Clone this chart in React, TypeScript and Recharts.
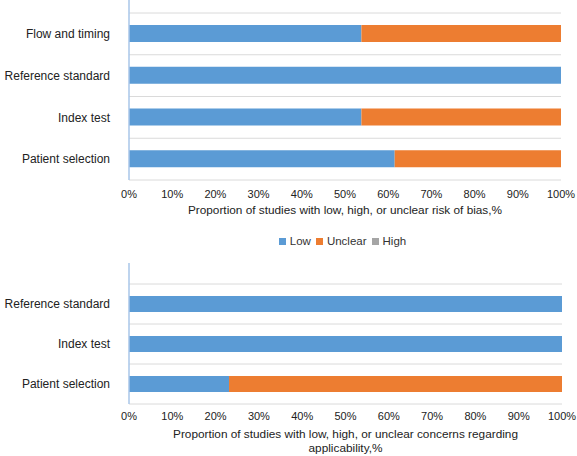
import React from 'react';
import { BarChart, Bar, XAxis, YAxis, CartesianGrid, Legend } from 'recharts';

// risk of bias (13 studies)
const biasDomains = ['Flow and timing', 'Reference standard', 'Index test', 'Patient selection'];
const biasLow = [53.8, 100, 53.8, 61.5];
const biasUnclear = [46.2, 0, 46.2, 38.5];
const biasHigh = [0, 0, 0, 0];

// applicability concerns
const applDomains = ['Reference standard', 'Index test', 'Patient selection'];
const applLow = [100, 100, 23.1];
const applUnclear = [0, 0, 76.9];
const applHigh = [0, 0, 0];

const pctTicks = [0, 10, 20, 30, 40, 50, 60, 70, 80, 90, 100];
const legendOrder = ['Low', 'Unclear', 'High'];

const FONT = '"Liberation Sans", Arial, Helvetica, sans-serif';
const BLUE = '#5b9bd5';
const ORANGE = '#ed7d31';
const GRAY = '#a5a5a5';

const biasData = biasDomains.map((name, i) => ({
  name,
  low: biasLow[i],
  unclear: biasUnclear[i],
  high: biasHigh[i],
}));

const applData = applDomains.map((name, i) => ({
  name,
  low: applLow[i],
  unclear: applUnclear[i],
  high: applHigh[i],
}));

// gridlines sit on the category boundaries, not on the tick centres
const bandLines = (count: number, padTop: number) => ({ offset }: any) => {
  const top = offset.top + padTop;
  const step = (offset.height - padTop) / count;
  return Array.from({ length: count + 1 }, (_, i) => top + i * step);
};

const AxisTitle = ({ viewBox, lines }: any) => {
  const cx = viewBox.x + viewBox.width / 2;
  return (
    <text x={cx} y={viewBox.y + 34} textAnchor="middle" fontSize={11.8} fill="#222" fontFamily={FONT}>
      {lines.map((l: string, i: number) => (
        <tspan key={i} x={cx} dy={i === 0 ? 0 : 14}>{l}</tspan>
      ))}
    </text>
  );
};

// compact legend, Excel style
const LegendBox = ({ payload }: any) => {
  const items = [...(payload || [])].sort(
    (a: any, b: any) => legendOrder.indexOf(a.value) - legendOrder.indexOf(b.value)
  );
  return (
    <div style={{ display: 'flex', justifyContent: 'center', alignItems: 'center', height: 30, fontSize: 11.5, color: '#333' }}>
      {items.map((it: any) => (
        <span key={it.value} style={{ display: 'inline-flex', alignItems: 'center', marginRight: 5 }}>
          <span style={{ width: 7, height: 7, background: it.color, marginRight: 4, display: 'inline-block' }} />
          {it.value}
        </span>
      ))}
    </div>
  );
};

const Bars = () => (
  <>
    <Bar dataKey="low" name="Low" stackId="s" fill={BLUE} isAnimationActive={false} />
    <Bar dataKey="unclear" name="Unclear" stackId="s" fill={ORANGE} isAnimationActive={false} />
    <Bar dataKey="high" name="High" stackId="s" fill={GRAY} isAnimationActive={false} />
  </>
);

export default function App() {
  const tick = { fontSize: 11, fill: '#222', fontFamily: FONT };
  const catTick = { fontSize: 12, fill: '#222', fontFamily: FONT };
  return (
    <div style={{ position: 'absolute', left: 0, top: 0, width: 577, height: 456, background: '#fff', fontFamily: FONT }}>
      <BarChart
        width={577}
        height={256}
        data={biasData}
        layout="vertical"
        barSize={17}
        margin={{ top: 0, right: 16, bottom: 0, left: 0 }}
      >
        <CartesianGrid vertical={false} stroke="#dadada" horizontalCoordinatesGenerator={bandLines(4, 13)} />
        <XAxis
          type="number"
          domain={[0, 100]}
          ticks={pctTicks}
          tickFormatter={(v: number) => `${v}%`}
          axisLine={false}
          tickLine={false}
          tick={tick}
          tickMargin={4}
          height={46}
          interval={0}
          label={<AxisTitle lines={['Proportion of studies with low, high, or unclear risk of bias,%']} />}
        />
        <YAxis
          type="category"
          dataKey="name"
          width={129}
          padding={{ top: 13, bottom: 0 }}
          axisLine={{ stroke: '#a9c6e8', strokeWidth: 1.5 }}
          tickLine={false}
          tick={catTick}
          tickMargin={13}
        />
        <Legend
          verticalAlign="bottom"
          content={<LegendBox />}
          wrapperStyle={{ left: 129, width: 432, height: 30 }}
        />
        {Bars()}
      </BarChart>
      <BarChart
        width={577}
        height={200}
        data={applData}
        layout="vertical"
        barSize={16}
        margin={{ top: 7, right: 15, bottom: 0, left: 0 }}
      >
        <CartesianGrid vertical={false} stroke="#dadada" horizontalCoordinatesGenerator={bandLines(3, 21)} />
        <XAxis
          type="number"
          domain={[0, 100]}
          ticks={pctTicks}
          tickFormatter={(v: number) => `${v}%`}
          axisLine={false}
          tickLine={false}
          tick={tick}
          height={52}
          interval={0}
          label={<AxisTitle lines={['Proportion of studies with low, high, or unclear concerns regarding', 'applicability,%']} />}
        />
        <YAxis
          type="category"
          dataKey="name"
          width={129}
          padding={{ top: 21, bottom: 0 }}
          axisLine={{ stroke: '#a9c6e8', strokeWidth: 1.5 }}
          tickLine={false}
          tick={catTick}
          tickMargin={13}
        />
        {Bars()}
      </BarChart>
    </div>
  );
}
